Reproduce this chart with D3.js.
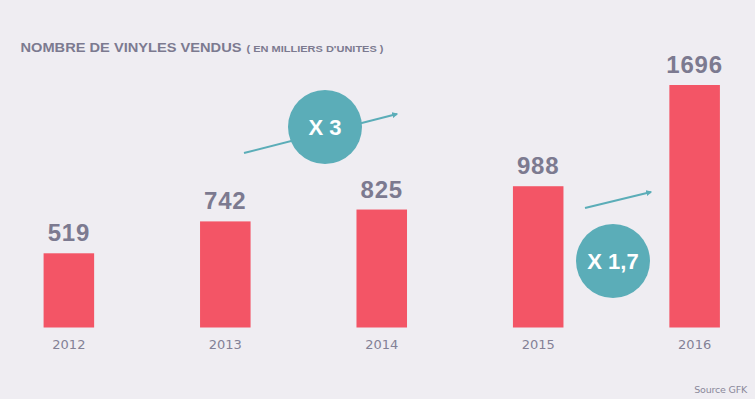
<!DOCTYPE html>
<html>
<head>
<meta charset="utf-8">
<script src="https://cdn.jsdelivr.net/npm/d3@7"></script>
<style>
  html, body { margin: 0; padding: 0; background: #efedf2; }
  svg { display: block; }
</style>
</head>
<body>
<svg width="755" height="399"></svg>
<script>
// data
var years = ["2012", "2013", "2014", "2015", "2016"];
var ventes = [519, 742, 825, 988, 1696];
var multiplicateurs = ["X 3", "X 1,7"];

var svg = d3.select("svg"),
    width = +svg.attr("width"),
    height = +svg.attr("height");

var rouge = "#f35566",
    gris = "#7c7a90",
    turquoise = "#5badb8";

svg.append("rect")
    .attr("width", width)
    .attr("height", height)
    .attr("fill", "#efedf2");

//scales
var x = d3.scaleBand()
    .domain(years)
    .range([17, 746.5])
    .paddingInner(0.677)
    .paddingOuter(0.17);

var y = d3.scaleLinear()
    .domain([0, 1696])
    .range([327.5, 85]);

//title
var title = svg.append("text")
    .attr("x", 20.5)
    .attr("y", 51.5)
    .attr("fill", gris)
    .style("font-family", "'Liberation Sans', Arial, sans-serif")
    .style("font-weight", "bold");
title.append("tspan")
    .style("font-size", "13.5px")
    .attr("textLength", 221)
    .attr("lengthAdjust", "spacingAndGlyphs")
    .text("NOMBRE DE VINYLES VENDUS");
title.append("tspan")
    .attr("dx", 5)
    .style("font-size", "9.5px")
    .attr("textLength", 137)
    .attr("lengthAdjust", "spacingAndGlyphs")
    .text("( EN MILLIERS D'UNITES )");

//bars
svg.append("g")
    .selectAll("rect")
    .data(ventes)
    .enter().append("rect")
      .attr("x", function (d, i) { return x(years[i]); })
      .attr("y", function (d) { return y(d); })
      .attr("width", x.bandwidth())
      .attr("height", function (d) { return y(0) - y(d); })
      .attr("fill", rouge);

//value labels
svg.append("g")
    .selectAll("text")
    .data(ventes)
    .enter().append("text")
      .attr("x", function (d, i) { return x(years[i]) + x.bandwidth() / 2; })
      .attr("y", function (d) { return y(d) - 12; })
      .attr("text-anchor", "middle")
      .attr("fill", gris)
      .style("font-family", "'Liberation Sans', Arial, sans-serif")
      .style("font-weight", "bold")
      .style("font-size", "24px")
      .style("letter-spacing", "0.8px")
      .text(function (d) { return d; });

//x axis labels (no line)
var axis = svg.append("g")
    .attr("transform", "translate(0," + 349 + ")")
    .call(d3.axisBottom(x).tickSize(0).tickPadding(0));
axis.select(".domain").remove();
axis.selectAll("text")
    .attr("dy", 0)
    .attr("fill", "#838196")
    .style("font-family", "'DejaVu Sans', sans-serif")
    .style("font-size", "13px");

//arrow marker
svg.append("defs").append("marker")
    .attr("id", "fleche")
    .attr("viewBox", "0 -5 10 10")
    .attr("refX", 8)
    .attr("refY", 0)
    .attr("markerWidth", 6)
    .attr("markerHeight", 6)
    .attr("markerUnits", "userSpaceOnUse")
    .attr("orient", "auto")
  .append("path")
    .attr("d", "M0,-5L10,0L0,5Z")
    .attr("fill", turquoise);

// annotations : arrow + circle
var annotations = [
  { x1: 244, y1: 153, x2: 397, y2: 114, cx: 325, cy: 127, label: multiplicateurs[0] },
  { x1: 585, y1: 208, x2: 651, y2: 192, cx: 613, cy: 261, label: multiplicateurs[1] }
];

var ann = svg.append("g")
    .selectAll("g")
    .data(annotations)
    .enter().append("g");

ann.append("line")
    .attr("x1", function (d) { return d.x1; })
    .attr("y1", function (d) { return d.y1; })
    .attr("x2", function (d) { return d.x2; })
    .attr("y2", function (d) { return d.y2; })
    .attr("stroke", turquoise)
    .attr("stroke-width", 2)
    .attr("marker-end", "url(#fleche)");

ann.append("circle")
    .attr("cx", function (d) { return d.cx; })
    .attr("cy", function (d) { return d.cy; })
    .attr("r", 37)
    .attr("fill", turquoise);

ann.append("text")
    .attr("x", function (d) { return d.cx; })
    .attr("y", function (d) { return d.cy; })
    .attr("dy", "0.36em")
    .attr("text-anchor", "middle")
    .attr("fill", "#ffffff")
    .style("font-family", "'Liberation Sans', Arial, sans-serif")
    .style("font-weight", "bold")
    .style("font-size", "22px")
    .text(function (d) { return d.label; });

//source
svg.append("text")
    .attr("x", 747)
    .attr("y", 393)
    .attr("text-anchor", "end")
    .attr("fill", "#8a889a")
    .style("font-family", "'DejaVu Sans', sans-serif")
    .style("font-size", "9.5px")
    .style("letter-spacing", "-0.2px")
    .text("Source GFK");
</script>
</body>
</html>
